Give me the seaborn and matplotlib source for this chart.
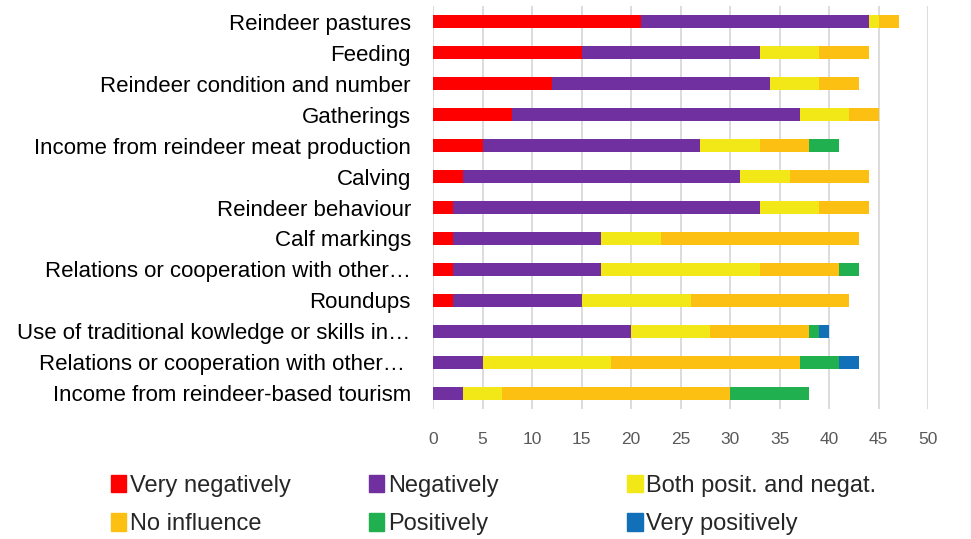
import numpy as np
import pandas as pd
import matplotlib
matplotlib.use('Agg')
import matplotlib.pyplot as plt
import seaborn as sns

# categories (top to bottom)
factors = ['Reindeer pastures', 'Feeding', 'Reindeer condition and number', 'Gatherings',
           'Income from reindeer meat production', 'Calving', 'Reindeer behaviour',
           'Calf markings', 'Relations or cooperation with other\u2026', 'Roundups',
           'Use of traditional kowledge or skills in\u2026',
           'Relations or cooperation with other\u2026 ', 'Income from reindeer-based tourism']

very_negatively = [21, 15, 12, 8, 5, 3, 2, 2, 2, 2, 0, 0, 0]
negatively = [23, 18, 22, 29, 22, 28, 31, 15, 15, 13, 20, 5, 3]
both = [1, 6, 5, 5, 6, 5, 6, 6, 16, 11, 8, 13, 4]
no_influence = [2, 5, 4, 3, 5, 8, 5, 20, 8, 16, 10, 19, 23]
positively = [0, 0, 0, 0, 3, 0, 0, 0, 2, 0, 1, 4, 8]
very_positively = [0, 0, 0, 0, 0, 0, 0, 0, 0, 0, 1, 2, 0]

series_names = ['Very negatively', 'Negatively', 'Both posit. and negat.',
                'No influence', 'Positively', 'Very positively']
colors = ['#ff0000', '#7030a0', '#f2e817', '#fbc011', '#21b04f', '#1170b8']

df = pd.DataFrame({'factor': factors})
for name, vals in zip(series_names, [very_negatively, negatively, both,
                                     no_influence, positively, very_positively]):
    df[name] = vals

# cumulative totals, drawn from the back so each segment shows
cum = df[series_names].cumsum(axis=1)

sns.set_style('white')
plt.rcParams['font.family'] = ['Liberation Sans', 'DejaVu Sans']

fig = plt.figure(figsize=(9.71, 5.39), dpi=100)
ax = fig.add_axes([0.446, 0.242, 0.51, 0.746])

handles = {}
for name, color in reversed(list(zip(series_names, colors))):
    sns.barplot(x=cum[name], y=df['factor'], color=color, orient='h',
                width=0.42, ax=ax, saturation=1, linewidth=0)
    handles[name] = plt.Rectangle((0, 0), 1, 1, color=color)

ax.set_xlim(0, 50)
ax.set_xticks(range(0, 51, 5))
ax.xaxis.grid(True, color='#d9d9d9', linewidth=1.3)
ax.set_axisbelow(True)
for s in ax.spines.values():
    s.set_visible(False)
ax.set_xlabel('')
ax.set_ylabel('')
ax.tick_params(axis='x', length=0, pad=17, labelsize=12.5, labelcolor='#595959')
ax.tick_params(axis='y', length=0, pad=16, labelsize=16, labelcolor='black')

# legend: three columns placed like the original
columns = [['Very negatively', 'No influence'],
           ['Negatively', 'Positively'],
           ['Both posit. and negat.', 'Very positively']]
for xpos, col in zip([0.114, 0.380, 0.646], columns):
    leg = fig.legend([handles[n] for n in col], col, loc='center left',
                     bbox_to_anchor=(xpos, 0.063), frameon=False, fontsize=17,
                     handlelength=0.65, handleheight=0.75, handletextpad=0.15,
                     labelspacing=0.7, borderpad=0, borderaxespad=0)

plt.savefig('out.png', dpi=100)
